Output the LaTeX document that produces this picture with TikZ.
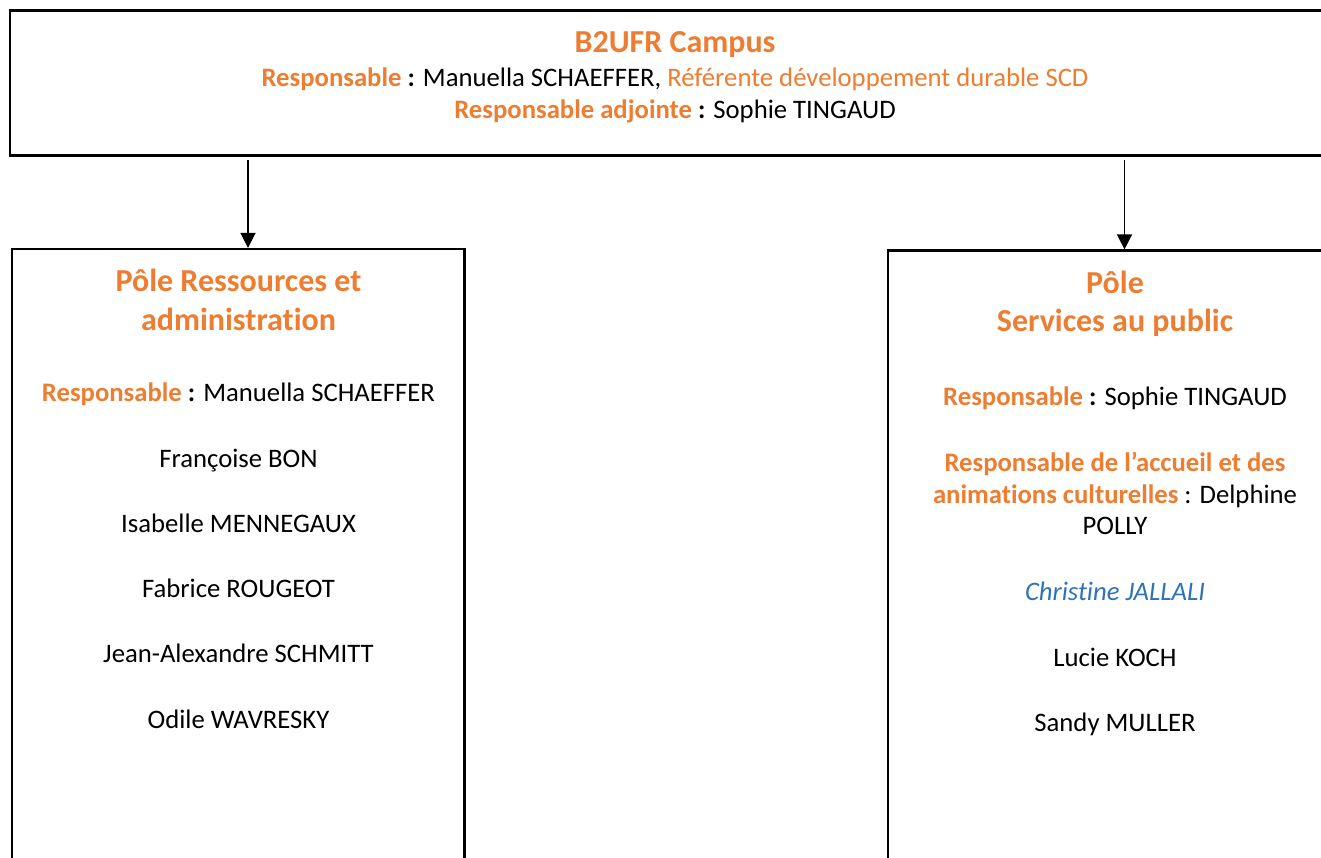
\documentclass[tikz,border=0pt]{standalone}
\usepackage{fontspec}
\setmainfont{Carlito}[Ligatures={NoCommon,NoContextual,NoRare}, RawFeature={-liga;-clig;-calt;-dlig}]
\usetikzlibrary{arrows.meta}
\definecolor{orng}{HTML}{ED7D31}
\definecolor{blu}{HTML}{2E74B5}
\newcommand\rb[1]{\textbf{\textcolor{orng}{#1}}}
\newcommand\nl{\kern0pt}
\tikzset{
  box/.style={draw=black, line width=2.2pt, fill=none, inner sep=0pt},
  hd/.style={font=\fontsize{32}{39}\selectfont\bfseries, text=orng, anchor=base, inner sep=0pt},
  txt/.style={font=\fontsize{26.7}{33}\selectfont, anchor=base, inner sep=0pt},
  arr/.style={-{Triangle[width=15pt,length=15pt]}, line width=1.4pt}
}
\begin{document}
\begin{tikzpicture}[x=1pt,y=-1pt]
\clip (0,0) rectangle (1321,857);
\fill[white] (0,0) rectangle (1321,857);
% boxes
\node[box, minimum width=1335pt, minimum height=145pt] (top) at (677.5,83) {};
\node[box, minimum width=452.5pt, minimum height=701pt] (left) at (238.25,599.5) {};
\node[box, minimum width=454pt, minimum height=699.5pt] (right) at (1115,600.25) {};
% arrows
\coordinate (s1) at (248,160);
\coordinate (s2) at (1124.5,160);
\draw[arr] (s1) -- (left.north -| s1);
\draw[arr] (s2) -- (right.north -| s2);
% top texts
\node[hd] (t1) at (675,52.5) {B2UFR Campus};
\node[txt] (t2) at (675,86) {\rb{Responsable} \textbf{:} Manuella SCHAEFFER, \textcolor{orng}{Référente développement durable SCD}};
\node[txt] (t3) at (675,118.5) {\rb{Responsable adjointe} \textbf{:} Sophie TINGAUD};
% left texts
\node[hd] (l1) at (238.5,291.7) {Pôle Ressources et};
\node[hd] (l2) at (238.5,330) {administrat\nl ion};
\node[txt] (l3) at (238.5,401.7) {\rb{Responsable} \textbf{:} Manuella SCHAEFFER};
\node[txt] (l4) at (238.5,467.7) {Françoise BON};
\node[txt] (l5) at (238.5,532.7) {Isabelle MENNEGAUX};
\node[txt] (l6) at (238.5,597.7) {Fabrice ROUGEOT};
\node[txt] (l7) at (238.5,662.7) {Jean-Alexandre SCHMITT};
\node[txt] (l8) at (238.5,728.3) {Odile WAVRESKY};
% right texts
\node[hd] (r1) at (1115,293.3) {Pôle};
\node[hd] (r2) at (1115,331.7) {Services au public};
\node[txt] (r3) at (1115,405) {\rb{Responsable} \textbf{:} Sophie TINGAUD};
\node[txt] (r4) at (1115,471.7) {\rb{Responsable de l’accueil et des}};
\node[txt] (r5) at (1115,503) {\rb{animat\nl ions culturelles} : Delphine};
\node[txt] (r6) at (1115,534) {POLLY};
\node[txt, text=blu, font=\fontsize{26.7}{33}\selectfont\itshape] (r7) at (1115,600) {Christ\nl ine JALLALI};
\node[txt] (r8) at (1115,666.7) {Lucie KOCH};
\node[txt] (r9) at (1115,731.7) {Sandy MULLER};
\end{tikzpicture}
\end{document}
